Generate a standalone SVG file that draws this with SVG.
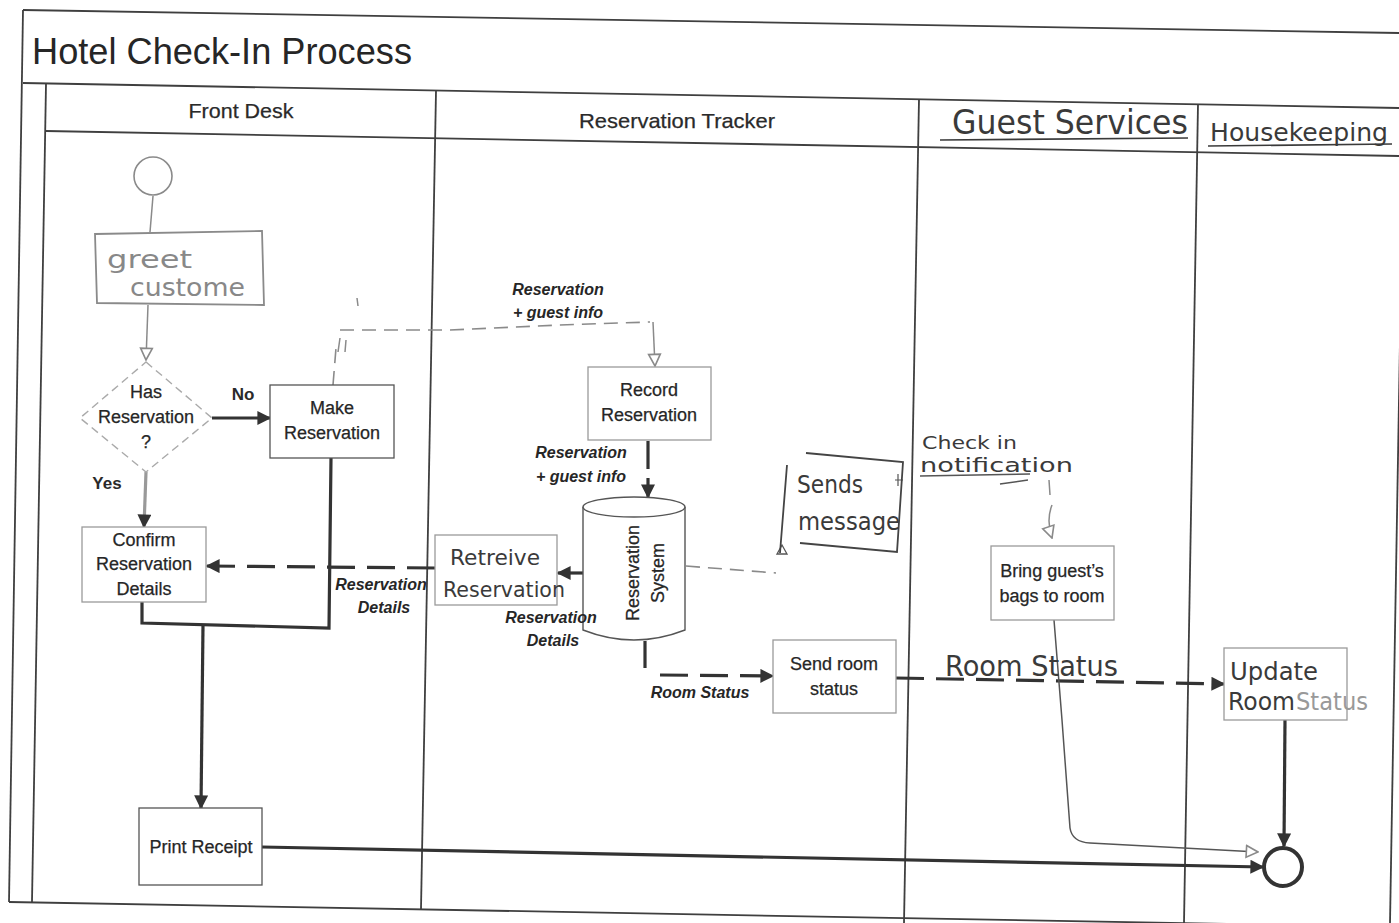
<svg xmlns="http://www.w3.org/2000/svg" width="1399" height="923" viewBox="0 0 1399 923">
<defs>
<style>
.frame{stroke:#3f3f3f;stroke-width:1.8;fill:none}
.box{fill:#fff;stroke:#555;stroke-width:1.3}
.lbox{fill:#fff;stroke:#9a9a9a;stroke-width:1.3}
.t{font-family:"Liberation Sans",Arial,sans-serif;font-size:18px;fill:#262626;stroke:#262626;stroke-width:0.25;text-anchor:middle}
.h{font-family:"Liberation Sans",Arial,sans-serif;font-size:21px;fill:#2a2a2a;stroke:#2a2a2a;stroke-width:0.25;text-anchor:middle}
.lb{font-family:"Liberation Sans",Arial,sans-serif;font-size:16px;font-weight:bold;font-style:italic;fill:#262626;text-anchor:middle}
.yn{font-family:"Liberation Sans",Arial,sans-serif;font-size:17px;font-weight:bold;fill:#2a2a2a;text-anchor:middle}
.hw{font-family:"DejaVu Sans","Liberation Sans",sans-serif;fill:#3a3a3a}
.thick{stroke:#333;stroke-width:3.2;fill:none}
.thin{stroke:#8a8a8a;stroke-width:1.5;fill:none}
.dash{stroke:#333;stroke-width:3.2;fill:none;stroke-dasharray:28 12}
.ldash{stroke:#8a8a8a;stroke-width:1.6;fill:none;stroke-dasharray:14 8}
</style>
<marker id="ah" viewBox="0 0 10 10" refX="9" refY="5" markerWidth="15" markerHeight="14" orient="auto" markerUnits="userSpaceOnUse"><path d="M0,0 L10,5 L0,10 z" fill="#333"/></marker>
<marker id="ao" viewBox="0 0 12 12" refX="11" refY="6" markerWidth="14" markerHeight="16" orient="auto" markerUnits="userSpaceOnUse"><path d="M1,1 L11,6 L1,11 z" fill="#fff" stroke="#8a8a8a" stroke-width="1.4"/></marker>
</defs>
<rect width="1399" height="923" fill="#fff"/>
<g id="frame" class="frame">
<line x1="23" y1="10" x2="1399" y2="33"/>
<line x1="23" y1="10" x2="9" y2="902"/>
<line x1="23" y1="83" x2="1399" y2="108"/>
<line x1="46" y1="131" x2="1399" y2="156"/>
<line x1="46" y1="84" x2="32" y2="902"/>
<line x1="436" y1="91" x2="421" y2="909"/>
<line x1="919" y1="99" x2="904" y2="923"/>
<line x1="1198" y1="104" x2="1184" y2="923"/>
<line x1="1404" y1="108" x2="1390" y2="923"/>
<line x1="9" y1="902" x2="1399" y2="927"/>
</g>
<g id="title">
<text x="32" y="64" font-family="Liberation Sans,Arial,sans-serif" font-size="36" fill="#262626" textLength="380" lengthAdjust="spacingAndGlyphs">Hotel Check-In Process</text>
</g>
<g id="lanes">
<text class="h" x="241" y="118" textLength="105" lengthAdjust="spacingAndGlyphs">Front Desk</text>
<text class="h" x="677" y="128" textLength="196" lengthAdjust="spacingAndGlyphs">Reservation Tracker</text>
<text class="hw" x="952" y="134" font-size="34" textLength="236" lengthAdjust="spacingAndGlyphs">Guest Services</text>
<line x1="940" y1="140" x2="1188" y2="138" stroke="#3a3a3a" stroke-width="1.6"/>
<text class="hw" x="1210" y="141" font-size="25" textLength="178" lengthAdjust="spacingAndGlyphs">Housekeeping</text>
<line x1="1208" y1="146" x2="1392" y2="144" stroke="#3a3a3a" stroke-width="1.6"/>
</g>
<g id="connectors">
<line class="thin" x1="153" y1="196" x2="150" y2="232"/>
<line class="thin" x1="148" y1="305" x2="146" y2="360" marker-end="url(#ao)"/>
<line class="thick" x1="212" y1="418" x2="270" y2="418" marker-end="url(#ah)"/>
<line x1="146" y1="472" x2="144" y2="527" stroke="#999" stroke-width="3.2" marker-end="url(#ah)"/>
<path class="ldash" d="M333,385 L336,348 M340,330 L450,330 L560,325 L650,322"/>
<path class="thin" d="M338,352 L340,338 M345,352 L346,340 M357,298 L358,306"/>
<path class="thin" d="M653,322 L655,366" marker-end="url(#ao)"/>
<line class="thick" x1="648" y1="441" x2="648" y2="469"/>
<line class="thick" x1="648" y1="478" x2="648" y2="497" marker-end="url(#ah)"/>
<line class="thick" x1="606" y1="573" x2="582" y2="573"/>
<line class="thick" x1="582" y1="573" x2="558" y2="573" marker-end="url(#ah)"/>
<line class="dash" x1="435" y1="568" x2="207" y2="566" marker-end="url(#ah)"/>
<line x1="330" y1="561" x2="330" y2="573" stroke="#333" stroke-width="2"/>
<path class="thick" d="M331,458 L329,628 L142,623 L142,602"/>
<line class="thick" x1="203" y1="625" x2="201" y2="808" marker-end="url(#ah)"/>
<line class="thick" x1="262" y1="847" x2="1263" y2="867" marker-end="url(#ah)"/>
<line class="thick" x1="645" y1="641" x2="645" y2="668"/>
<line class="dash" x1="660" y1="675" x2="773" y2="676" marker-end="url(#ah)" stroke-dasharray="40 10"/>
<line class="dash" x1="896" y1="678" x2="1224" y2="684" marker-end="url(#ah)" stroke-dasharray="38 24"/>
<path class="ldash" d="M686,566 L776,573" stroke-dasharray="12 8"/>
<path d="M782,545 L777,554 L787,554 z" fill="#fff" stroke="#555" stroke-width="1.3"/>
<path class="thin" d="M1049,480 L1050,495 M1052,505 Q1046,520 1052,538" marker-end="url(#ao)"/>
<path d="M1054,620 L1062,720 L1070,828 Q1072,842 1090,843 L1258,852" stroke="#555" stroke-width="1.5" fill="none" marker-end="url(#ao)"/>
<line class="thick" x1="1285" y1="720" x2="1284" y2="846" marker-end="url(#ah)"/>
<path d="M895,480 L903,480 M898,474 L898,486" stroke="#555" stroke-width="1.2"/>
</g>
<g id="start"><circle cx="153" cy="176" r="19" fill="#fff" stroke="#8a8a8a" stroke-width="1.6"/></g>
<g id="greet">
<path d="M95,234 L262,231 L264,305 L97,303 z" fill="#fff" stroke="#8a8a8a" stroke-width="1.8"/>
<text class="hw" x="107" y="268" font-size="24" textLength="85" lengthAdjust="spacingAndGlyphs" style="fill:#888">greet</text>
<text class="hw" x="130" y="296" font-size="24" textLength="115" lengthAdjust="spacingAndGlyphs" style="fill:#888">custome</text>
</g>
<g id="decision">
<path d="M146,362 L212,418 L146,472 L80,418 z" fill="#fff" stroke="#aaa" stroke-width="1.4" stroke-dasharray="8 5"/>
<text class="t" x="146" y="398">Has</text>
<text class="t" x="146" y="423">Reservation</text>
<text class="t" x="146" y="448">?</text>
</g>
<g id="make">
<rect class="box" x="270" y="385" width="124" height="73"/>
<text class="t" x="332" y="414">Make</text>
<text class="t" x="332" y="439">Reservation</text>
</g>
<g id="record">
<rect class="lbox" x="588" y="367" width="123" height="73"/>
<text class="t" x="649" y="396">Record</text>
<text class="t" x="649" y="421">Reservation</text>
</g>
<g id="system">
<path d="M583,507 L583,630 Q634,650 685,630 L685,507" fill="#fff" stroke="#555" stroke-width="1.4"/>
<ellipse cx="634" cy="507" rx="51" ry="10" fill="#fff" stroke="#555" stroke-width="1.4"/>
<text class="t" transform="translate(639,573) rotate(-90)">Reservation</text>
<text class="t" transform="translate(664,573) rotate(-90)">System</text>
</g>
<g id="retrieve">
<rect class="lbox" x="435" y="535" width="122" height="70"/>
<text class="hw" x="450" y="565" font-size="22" textLength="90" lengthAdjust="spacingAndGlyphs">Retreive</text>
<text class="hw" x="443" y="597" font-size="22" textLength="122" lengthAdjust="spacingAndGlyphs">Reservation</text>
</g>
<g id="confirm">
<rect class="lbox" x="82" y="527" width="124" height="75"/>
<text class="t" x="144" y="546">Confirm</text>
<text class="t" x="144" y="570">Reservation</text>
<text class="t" x="144" y="595">Details</text>
</g>
<g id="print">
<rect class="box" x="139" y="808" width="123" height="77"/>
<text class="t" x="201" y="853">Print Receipt</text>
</g>
<g id="send">
<rect class="lbox" x="773" y="640" width="123" height="73"/>
<text class="t" x="834" y="670">Send room</text>
<text class="t" x="834" y="695">status</text>
</g>
<g id="message">
<path d="M806,453 L903,462 L897,552 L800,543 M787,465 L780,553" fill="none" stroke="#444" stroke-width="1.8"/>
<text class="hw" x="797" y="493" font-size="24" textLength="66" lengthAdjust="spacingAndGlyphs">Sends</text>
<text class="hw" x="798" y="530" font-size="24" textLength="102" lengthAdjust="spacingAndGlyphs">message</text>
</g>
<g id="notification">
<text class="hw" x="922" y="449" font-size="18" textLength="95" lengthAdjust="spacingAndGlyphs">Check in</text>
<text class="hw" x="920" y="472" font-size="19" textLength="153" lengthAdjust="spacingAndGlyphs">notification</text>
<path d="M920,476 L1030,474 M1000,484 L1028,480" stroke="#555" stroke-width="1.4" fill="none"/>
</g>
<g id="bags">
<rect class="lbox" x="991" y="546" width="123" height="74"/>
<text class="t" x="1052" y="577">Bring guest’s</text>
<text class="t" x="1052" y="602">bags to room</text>
</g>
<g id="update">
<rect class="lbox" x="1224" y="648" width="123" height="72"/>
<text class="hw" x="1230" y="680" font-size="24" textLength="88" lengthAdjust="spacingAndGlyphs">Update</text>
<text class="hw" x="1228" y="710" font-size="24" textLength="67" lengthAdjust="spacingAndGlyphs">Room</text>
<text class="hw" x="1296" y="710" font-size="24" textLength="72" lengthAdjust="spacingAndGlyphs" style="fill:#999">Status</text>
</g>
<g id="end"><circle cx="1283" cy="867" r="19" fill="#fff" stroke="#333" stroke-width="4"/></g>
<g id="labels">
<text class="lb" x="558" y="295">Reservation</text>
<text class="lb" x="558" y="318">+ guest info</text>
<text class="lb" x="581" y="458">Reservation</text>
<text class="lb" x="581" y="482">+ guest info</text>
<text class="lb" x="381" y="590">Reservation</text>
<text class="lb" x="384" y="613">Details</text>
<text class="lb" x="551" y="623">Reservation</text>
<text class="lb" x="553" y="646">Details</text>
<text class="lb" x="700" y="698" font-size="17">Room Status</text>
<text class="yn" x="243" y="400">No</text>
<text class="yn" x="107" y="489">Yes</text>
<text class="hw" x="945" y="676" font-size="28" textLength="173" lengthAdjust="spacingAndGlyphs">Room Status</text>
</g>
</svg>
